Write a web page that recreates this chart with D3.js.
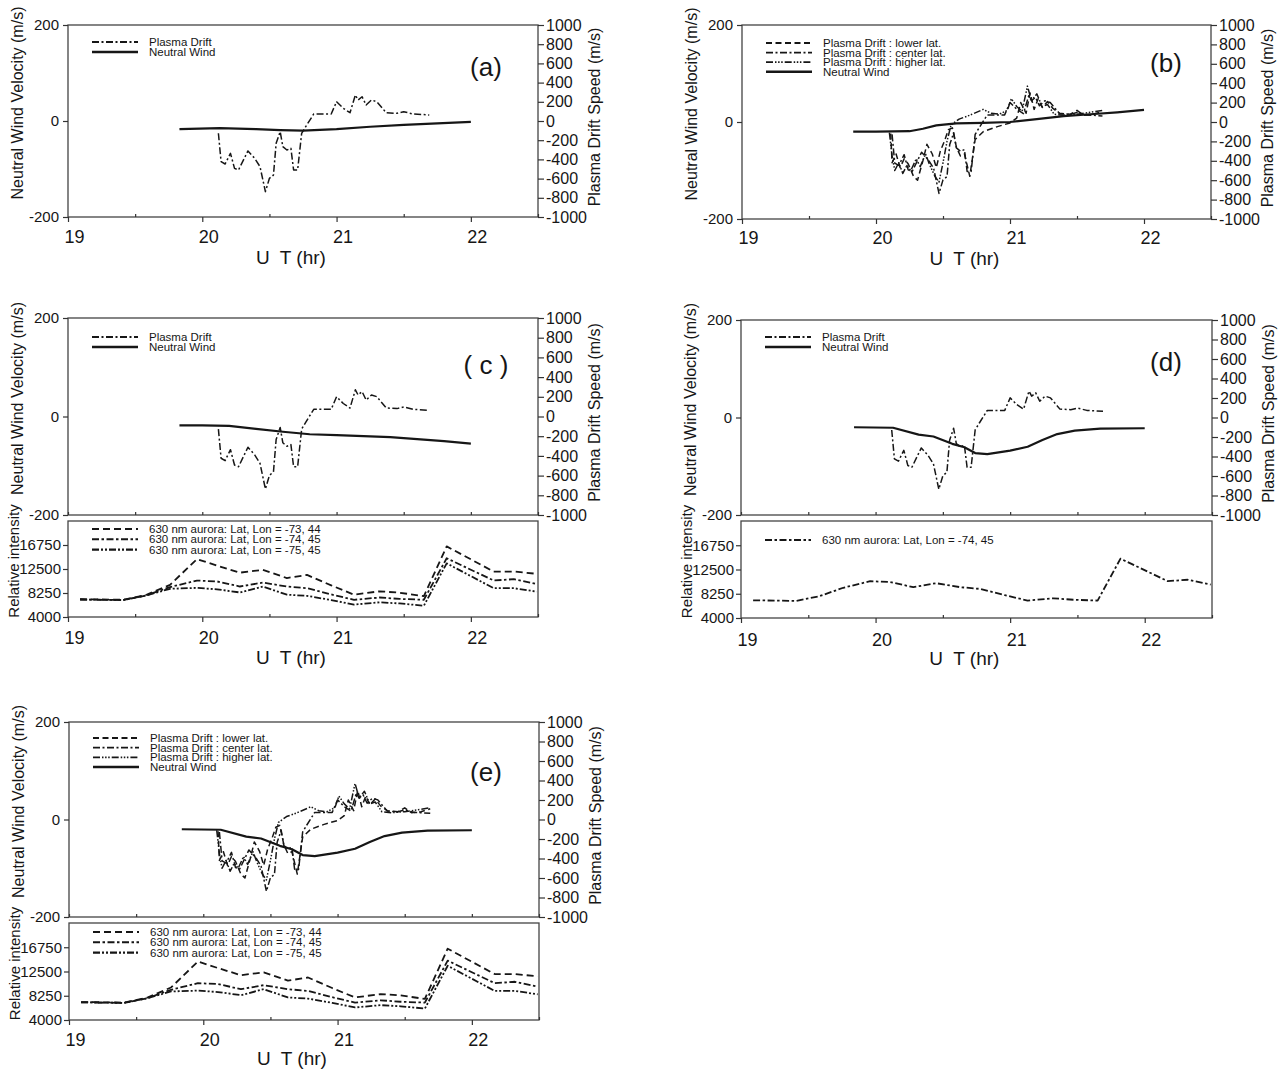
<!DOCTYPE html>
<html><head><meta charset="utf-8">
<script src="https://cdn.jsdelivr.net/npm/d3@7"></script>
<style>
body{margin:0;background:#fff}
svg{display:block}
text{font-family:"Liberation Sans",Arial,Helvetica,sans-serif;fill:#161616}
</style>
</head><body>
<svg id="chart" width="1282" height="1069"></svg>
<script>
// ---------------- DATA ----------------
const xMajorTicks = [19, 20, 21, 22];
const xHalfTicks = [19.5, 20.5, 21.5, 22.5];
const windTicks = [-200, 0, 200];
const driftTicks = [-1000, -800, -600, -400, -200, 0, 200, 400, 600, 800, 1000];
const intensityTicks = [4000, 8250, 12500, 16750];

// Plasma drift, center latitude (m/s, right axis)
const driftTime = [20.12, 20.14, 20.17, 20.21, 20.24, 20.27, 20.34, 20.39, 20.43, 20.47, 20.50, 20.53, 20.55, 20.58, 20.60, 20.63, 20.66, 20.68, 20.71, 20.74, 20.77, 20.83, 20.96, 21.00, 21.05, 21.10, 21.14, 21.16, 21.19, 21.22, 21.26, 21.30, 21.37, 21.45, 21.50, 21.57, 21.69];
const driftCenter = [-128, -424, -448, -337, -493, -510, -312, -389, -476, -736, -597, -563, -233, -111, -267, -302, -285, -510, -510, -128, -59, 73, 73, 201, 132, 86, 271, 219, 253, 167, 219, 201, 86, 80, 97, 73, 63];

// Plasma drift, lower latitude
const lowerTime = [20.11, 20.12, 20.15, 20.18, 20.21, 20.24, 20.28, 20.31, 20.35, 20.38, 20.42, 20.45, 20.48, 20.51, 20.54, 20.57, 20.60, 20.63, 20.66, 20.70, 20.74, 20.80, 20.90, 21.00, 21.05, 21.08, 21.12, 21.15, 21.18, 21.21, 21.24, 21.28, 21.32, 21.37, 21.45, 21.50, 21.55, 21.62, 21.69];
const driftLower = [-120, -420, -330, -470, -380, -430, -560, -600, -400, -230, -330, -470, -300, -200, -80, -60, -260, -350, -330, -560, -180, -100, -50, -10, 40, 200, 90, 300, 130, 240, 150, 210, 140, 90, 80, 120, 70, 80, 110];

// Plasma drift, higher latitude
const higherTime = [20.10, 20.12, 20.14, 20.17, 20.20, 20.23, 20.26, 20.30, 20.33, 20.37, 20.40, 20.44, 20.47, 20.50, 20.53, 20.56, 20.62, 20.70, 20.80, 20.86, 20.92, 20.98, 21.01, 21.05, 21.09, 21.13, 21.16, 21.20, 21.24, 21.28, 21.33, 21.40, 21.50, 21.60, 21.69];
const driftHigher = [-110, -350, -500, -420, -530, -450, -500, -380, -460, -330, -440, -560, -620, -420, -200, -30, 30, 70, 130, 90, 80, 120, 240, 160, 110, 370, 220, 290, 160, 180, 80, 70, 80, 100, 120];

// Neutral wind (m/s, left axis)
const windTimeA = [19.83, 20.13, 20.40, 20.58, 20.75, 21.00, 21.25, 21.50, 21.75, 22.00];
const windA = [-17, -15, -17, -19, -20, -17, -12, -8, -5, -2];
const windTimeB = [19.83, 20.00, 20.25, 20.35, 20.45, 20.60, 20.80, 21.00, 21.20, 21.40, 21.60, 21.80, 22.00];
const windB = [-20, -20, -19, -14, -7, -3, -2, 0, 6, 12, 16, 20, 25];
const windTimeC = [19.83, 20.00, 20.20, 20.40, 20.60, 20.80, 21.00, 21.20, 21.40, 21.60, 21.80, 22.00];
const windC = [-18, -18, -19, -25, -31, -36, -38, -40, -42, -46, -50, -55];
const windTimeD = [19.84, 20.13, 20.32, 20.43, 20.57, 20.66, 20.74, 20.83, 21.00, 21.13, 21.24, 21.35, 21.48, 21.67, 22.00];
const windD = [-20, -21, -35, -39, -54, -61, -73, -75, -68, -60, -46, -34, -27, -23, -22];

// 630 nm aurora relative intensity
const auroraTime = [19.09, 19.41, 19.58, 19.76, 19.96, 20.11, 20.28, 20.45, 20.63, 20.78, 20.96, 21.13, 21.32, 21.47, 21.65, 21.82, 22.17, 22.32, 22.49];
const aurora73 = [7150, 7050, 7900, 9700, 14250, 13100, 11850, 12350, 10900, 11450, 9600, 7950, 8550, 8300, 7700, 16500, 12050, 12050, 11650];
const aurora74 = [7100, 7000, 7800, 9300, 10450, 10300, 9400, 10100, 9400, 9100, 8000, 7050, 7450, 7200, 7050, 14400, 10460, 10700, 9850];
const aurora75 = [7100, 7000, 7800, 9000, 9150, 8900, 8350, 9400, 7950, 7750, 7000, 6200, 6600, 6400, 6000, 13500, 9100, 9100, 8500];

// ---------------- STYLES ----------------
const ST = {
  drift:  {dash: "7,2.5,2,2.5", w: 1.5},
  lower:  {dash: "6,3.5", w: 1.5},
  higher: {dash: "7,2,1.5,1.6,1.5,1.6,1.5,2", w: 1.5},
  wind:   {dash: null, w: 2.2},
  a73:    {dash: "7,4", w: 1.8},
  a74:    {dash: "7,2.5,2.5,2.5", w: 1.8},
  a75:    {dash: "7,2,2,2,2,2", w: 1.8}
};
const INK = "#161616";

const svg = d3.select("#chart");
const zip = (t, v) => t.map((d, i) => [d, v[i]]);

function styleAxis(sel, fs) {
  sel.select(".domain").remove();
  sel.selectAll(".tick line").attr("stroke", "#333").attr("stroke-width", 1.2);
  sel.selectAll(".tick text").attr("font-size", fs).attr("fill", INK)
     .attr("font-family", "'Liberation Sans',Arial,sans-serif");
}

function drawLine(g, data, x, y, st) {
  const line = d3.line().x(d => x(d[0])).y(d => y(d[1]));
  const p = g.append("path").datum(data).attr("d", line)
    .attr("fill", "none").attr("stroke", INK).attr("stroke-width", st.w)
    .attr("stroke-linejoin", "round");
  if (st.dash) p.attr("stroke-dasharray", st.dash);
}

function legend(g, x0, y0, dy, items, fs) {
  items.forEach((it, i) => {
    const y = y0 + i * dy;
    const l = g.append("line").attr("x1", x0).attr("x2", x0 + 46).attr("y1", y).attr("y2", y)
      .attr("stroke", INK).attr("stroke-width", it.st.w + 0.3);
    if (it.st.dash) l.attr("stroke-dasharray", it.st.dash);
    g.append("text").attr("x", x0 + 57).attr("y", y).attr("dy", "0.35em")
      .attr("font-size", fs).text(it.label);
  });
}

function drawPanel(p) {
  const g = svg.append("g");
  const x = d3.scaleLinear().domain([19, 22.5]).range([p.left, p.right]);
  const yL = d3.scaleLinear().domain([-200, 200]).range([p.bottom, p.top]);
  const yR = d3.scaleLinear().domain([-1000, 1000]).range([p.bottom, p.top]);

  g.append("rect").attr("x", p.left).attr("y", p.top).attr("width", p.right - p.left)
    .attr("height", p.bottom - p.top).attr("fill", "none").attr("stroke", "#444").attr("stroke-width", 1.3);

  const la = g.append("g").attr("transform", `translate(${p.left},0)`)
    .call(d3.axisLeft(yL).tickValues(windTicks).tickSize(5).tickPadding(4).tickFormat(d => String(d)));
  styleAxis(la, 15);
  const ra = g.append("g").attr("transform", `translate(${p.right},0)`)
    .call(d3.axisRight(yR).tickValues(driftTicks).tickSize(6).tickPadding(2).tickFormat(d => String(d)));
  styleAxis(ra, 16);

  const cy = (p.top + p.bottom) / 2;
  g.append("text").attr("transform", `translate(${p.left - 51},${cy - 18}) rotate(-90)`)
    .attr("text-anchor", "middle").attr("dy", "0.35em").attr("font-size", 16).text("Neutral Wind Velocity (m/s)");
  g.append("text").attr("transform", `translate(${p.right + 56},${cy - 4}) rotate(-90)`)
    .attr("text-anchor", "middle").attr("dy", "0.35em").attr("font-size", 16).text("Plasma Drift Speed (m/s)");
  g.append("text").attr("x", p.labX).attr("y", p.labY).attr("dy", "0.35em").attr("text-anchor", "middle")
    .attr("font-size", 26).style("white-space", "pre").text(p.label);

  p.series.forEach(s => drawLine(g, s.data, x, s.axis === "L" ? yL : yR, s.st));
  legend(g, p.left + 24, p.legY, p.legDy, p.legend, 11.5);

  let axisY = p.bottom;
  if (p.lower) {
    const [lt, lb] = p.lower;
    const ut = g.append("g").attr("transform", `translate(0,${p.bottom})`)
      .call(d3.axisBottom(x).tickValues(xMajorTicks.concat(xHalfTicks)).tickSize(-3).tickFormat(""));
    styleAxis(ut, 10);
    const yI = d3.scaleLinear().domain([4000, 21000]).range([lb, lt]);
    g.append("rect").attr("x", p.left).attr("y", lt).attr("width", p.right - p.left)
      .attr("height", lb - lt).attr("fill", "none").attr("stroke", "#444").attr("stroke-width", 1.3);
    const ia = g.append("g").attr("transform", `translate(${p.left},0)`)
      .call(d3.axisLeft(yI).tickValues(intensityTicks).tickSize(5).tickPadding(2).tickFormat(d => String(d)));
    styleAxis(ia, 15);
    g.append("text").attr("transform", `translate(${p.left - 54},${(lt + lb) / 2 - 8}) rotate(-90)`)
      .attr("text-anchor", "middle").attr("dy", "0.35em").attr("font-size", 15).text("Relative intensity");
    p.lowerSeries.forEach(s => drawLine(g, s.data, x, yI, s.st));
    legend(g, p.left + 24, p.lowLegY, 10.3, p.lowLegend, 11.5);
    axisY = lb;
  }

  const xa = g.append("g").attr("transform", `translate(0,${axisY})`)
    .call(d3.axisBottom(x).tickValues(xMajorTicks).tickSize(5).tickFormat(d => String(d)));
  styleAxis(xa, 18);
  xa.selectAll(".tick text").attr("y", p.tickY - axisY).attr("dy", "0.35em").attr("dx", 6);
  const xm = g.append("g").attr("transform", `translate(0,${axisY})`)
    .call(d3.axisBottom(x).tickValues(xHalfTicks).tickSize(-3).tickFormat(""));
  styleAxis(xm, 10);
  g.append("text").attr("x", x(20.66)).attr("y", p.utY).attr("dy", "0.35em").attr("text-anchor", "middle")
    .attr("font-size", 19).style("white-space", "pre").text("U  T (hr)");
}

const single = [
  {label: "Plasma Drift", st: ST.drift},
  {label: "Neutral Wind", st: ST.wind}
];
const triple = [
  {label: "Plasma Drift : lower lat.", st: ST.lower},
  {label: "Plasma Drift : center lat.", st: ST.drift},
  {label: "Plasma Drift : higher lat.", st: ST.higher},
  {label: "Neutral Wind", st: ST.wind}
];
const auroraLeg3 = [
  {label: "630 nm aurora: Lat, Lon = -73, 44", st: ST.a73},
  {label: "630 nm aurora: Lat, Lon = -74, 45", st: ST.a74},
  {label: "630 nm aurora: Lat, Lon = -75, 45", st: ST.a75}
];
const aurora3 = [
  {data: zip(auroraTime, aurora73), st: ST.a73},
  {data: zip(auroraTime, aurora74), st: ST.a74},
  {data: zip(auroraTime, aurora75), st: ST.a75}
];
const drift3 = [
  {data: zip(lowerTime, driftLower), axis: "R", st: ST.lower},
  {data: zip(driftTime, driftCenter), axis: "R", st: ST.drift},
  {data: zip(higherTime, driftHigher), axis: "R", st: ST.higher}
];

// (a)
drawPanel({left: 68, right: 538, top: 25, bottom: 217, label: "(a)", labX: 486, labY: 67,
  tickY: 237, utY: 257, legY: 42, legDy: 10, legend: single,
  series: [{data: zip(driftTime, driftCenter), axis: "R", st: ST.drift},
           {data: zip(windTimeA, windA), axis: "L", st: ST.wind}]});
// (b)
drawPanel({left: 742, right: 1211, top: 25, bottom: 219, label: "(b)", labX: 1166, labY: 63,
  tickY: 238, utY: 258, legY: 43, legDy: 9.6, legend: triple,
  series: drift3.concat([{data: zip(windTimeB, windB), axis: "L", st: ST.wind}])});
// (c)
drawPanel({left: 68, right: 538, top: 318, bottom: 515, lower: [521, 617], label: "( c )", labX: 486, labY: 365,
  tickY: 638, utY: 657, legY: 337, legDy: 10, legend: single,
  series: [{data: zip(driftTime, driftCenter), axis: "R", st: ST.drift},
           {data: zip(windTimeC, windC), axis: "L", st: ST.wind}],
  lowerSeries: aurora3, lowLegY: 529, lowLegend: auroraLeg3});
// (d)
drawPanel({left: 741, right: 1212, top: 320, bottom: 515, lower: [521, 618], label: "(d)", labX: 1166, labY: 362,
  tickY: 640, utY: 658, legY: 337, legDy: 10, legend: single,
  series: [{data: zip(driftTime, driftCenter), axis: "R", st: ST.drift},
           {data: zip(windTimeD, windD), axis: "L", st: ST.wind}],
  lowerSeries: [{data: zip(auroraTime, aurora74), st: ST.a74}], lowLegY: 540,
  lowLegend: [{label: "630 nm aurora: Lat, Lon = -74, 45", st: ST.a74}]});
// (e)
drawPanel({left: 69, right: 539, top: 722, bottom: 917, lower: [923, 1020], label: "(e)", labX: 486, labY: 772,
  tickY: 1040, utY: 1058, legY: 738, legDy: 9.7, legend: triple,
  series: drift3.concat([{data: zip(windTimeD, windD), axis: "L", st: ST.wind}]),
  lowerSeries: aurora3, lowLegY: 932, lowLegend: auroraLeg3});
</script>
</body></html>
